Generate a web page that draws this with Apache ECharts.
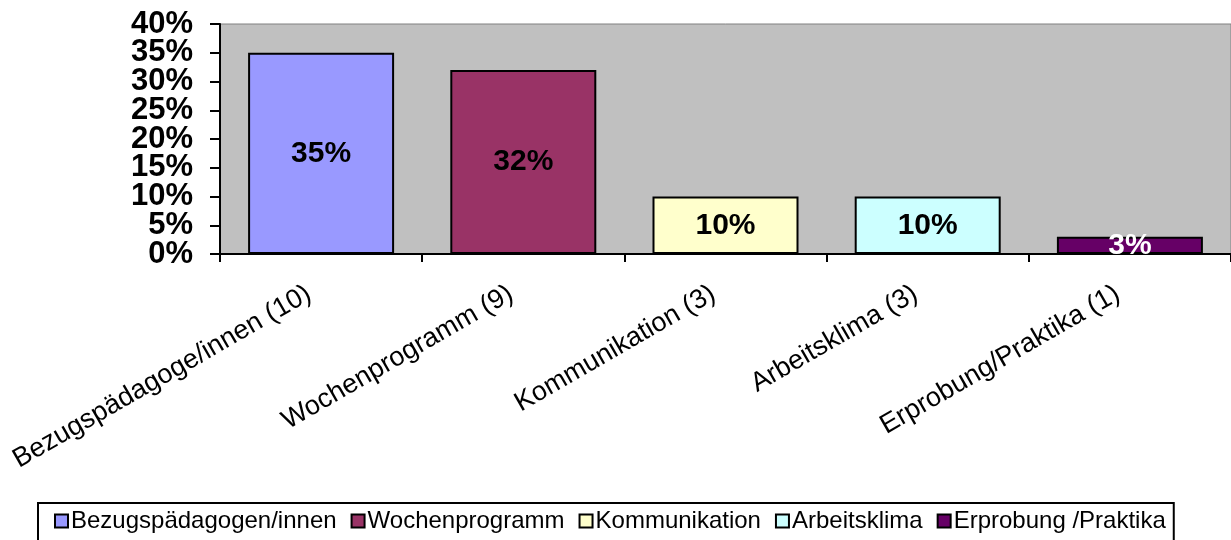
<!DOCTYPE html>
<html>
<head>
<meta charset="utf-8">
<script src="https://cdn.jsdelivr.net/npm/echarts@6/dist/echarts.min.js"></script>
<style>html,body{margin:0;padding:0;background:#fff}#c{width:1231px;height:540px}</style>
</head>
<body>
<div id="c"></div>
<script>
const categories = ['Bezugspädagoge/innen (10)', 'Wochenprogramm (9)', 'Kommunikation (3)', 'Arbeitsklima (3)', 'Erprobung/Praktika (1)'];
const seriesNames = ['Bezugspädagogen/innen', 'Wochenprogramm', 'Kommunikation', 'Arbeitsklima', 'Erprobung /Praktika'];
const values = [0.35, 0.32, 0.10, 0.10, 0.03];
const colors = ['#9999FF', '#993366', '#FFFFCC', '#CCFFFF', '#660066'];
const labelColors = ['#000', '#000', '#000', '#000', '#fff'];
const yMin = 0, yMax = 0.4, yStep = 0.05;

const FONT = "'Liberation Sans', Arial, sans-serif";
const chart = echarts.init(document.getElementById('c'));
const series = seriesNames.map((name, i) => ({
  name: name,
  type: 'bar',
  stack: 'all',
  barWidth: 146,
  yAxisIndex: 0,
  data: categories.map((c, j) => j === i ? values[i] : null),
  itemStyle: { color: colors[i], borderColor: '#000', borderWidth: 2 },
  label: {
    show: true,
    position: 'inside',
    formatter: p => Math.round(p.value * 100) + '%',
    fontFamily: FONT, fontWeight: 'bold', fontSize: 30, color: labelColors[i]
  }
}));
const pct = v => Math.round(v * 100) + '%';
const yLabelStyle = {
  margin: 27, hideOverlap: false,
  fontFamily: FONT, fontWeight: 'bold', fontSize: 31, color: '#000'
};
chart.setOption({
  animation: false,
  backgroundColor: '#fff',
  grid: { left: 220, top: 24, right: 0, bottom: 286, show: true, backgroundColor: '#C0C0C0', borderColor: '#808080', borderWidth: 1 },
  xAxis: {
    type: 'category',
    data: categories,
    axisLine: { lineStyle: { color: '#000', width: 2 } },
    axisTick: { show: true, length: 8, interval: 0, lineStyle: { color: '#000', width: 2 } },
    axisLabel: { interval: 0, rotate: 30, margin: 31, fontFamily: FONT, fontSize: 27, color: '#000', padding: [0, 14, 0, 0] },
    splitLine: { show: false }
  },
  yAxis: [{
    type: 'value',
    position: 'left',
    min: yMin, max: yMax, interval: yStep * 2,
    axisLine: { show: true, lineStyle: { color: '#000', width: 2 } },
    axisTick: { show: false },
    splitLine: { show: false },
    axisLabel: Object.assign({ showMinLabel: true, showMaxLabel: true, formatter: pct }, yLabelStyle)
  }, {
    type: 'value',
    position: 'left',
    offset: 0,
    min: yMin, max: yMax, interval: yStep,
    axisLine: { show: false },
    axisTick: { show: true, length: 10, lineStyle: { color: '#000', width: 2 } },
    splitLine: { show: false },
    axisLabel: Object.assign({
      formatter: v => (Math.round(v * 100) % 10 === 5 ? pct(v) : '')
    }, yLabelStyle)
  }],
  legend: {
    data: seriesNames,
    left: 38, top: 503,
    padding: [6, 8, 8, 16],
    borderColor: '#000', borderWidth: 2,
    itemWidth: 13, itemHeight: 13, itemGap: 14,
    icon: 'rect',
    itemStyle: { borderColor: '#000', borderWidth: 2 },
    textStyle: { fontFamily: FONT, fontSize: 24, color: '#000', padding: [0, 0, 0, -2] }
  },
  series: series
});
</script>
</body>
</html>
